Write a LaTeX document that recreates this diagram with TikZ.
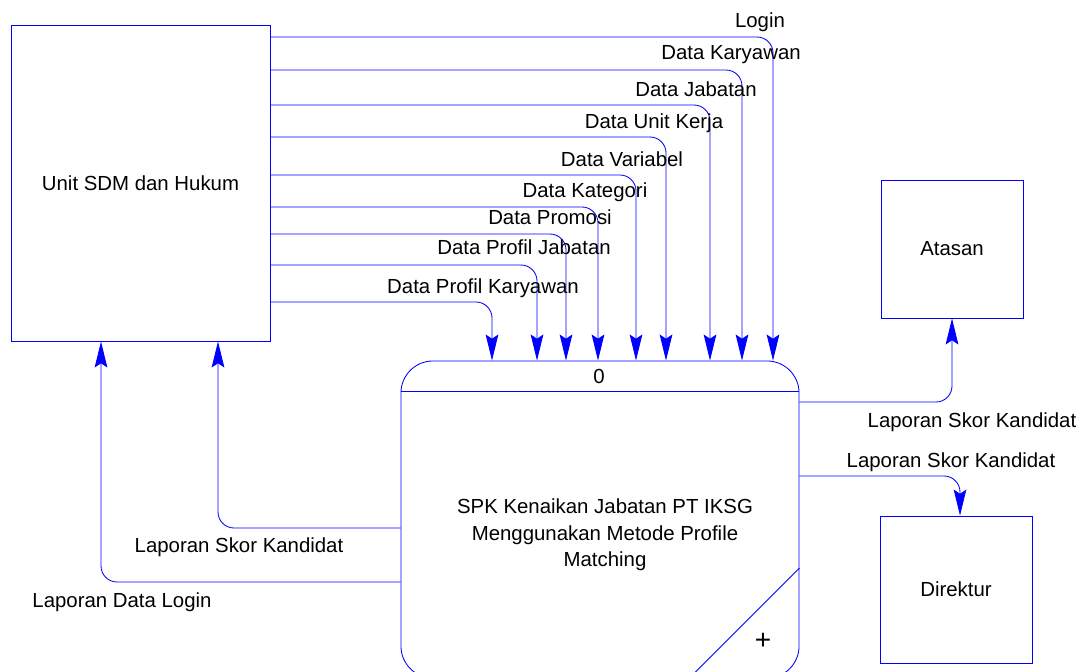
\documentclass[tikz,border=0pt]{standalone}
\usepackage{fontspec}
\setmainfont{Liberation Sans}
\usetikzlibrary{arrows.meta, positioning, calc}
\definecolor{DfdBlue}{RGB}{0,0,255}

\begin{document}
\begin{tikzpicture}[x=0.025cm, y=-0.025cm,
    txt/.style={font=\fontsize{14.5}{18.8}\selectfont, inner sep=0},
    lbl/.style={txt, anchor=base},
    entity/.style={draw=DfdBlue, line width=0.6pt, txt},
    flow/.style={draw=DfdBlue, line width=0.6pt, rounded corners=0.4cm, -{Stealth[length=18.5pt, width=9pt, inset=3pt]}}]
    \clip (0,0) rectangle (1083,671);
    \node[entity, minimum width=6.475cm, minimum height=7.9cm] (sdm) at (140.5,183) {Unit SDM dan Hukum};
    \node[entity, minimum width=3.55cm, minimum height=3.45cm] (atasan) at (952,249) {Atasan};
    \node[entity, minimum width=3.8cm, minimum height=3.675cm] (direktur) at (956,589.5) {Direktur};
    \node[entity, rounded corners=0.8cm, minimum width=9.95cm, minimum height=7.925cm] (proc) at (600,519.5) {};
    \draw[DfdBlue, line width=0.6pt] (proc.west |- 0,391) -- (proc.east |- 0,391);
    \draw[DfdBlue, line width=0.6pt] (proc.east |- 0,568) -- ++(-130,130);
    \node[lbl] (pid) at (599,383) {0};
    \node[txt, align=center] (pname) at (605,535) {SPK Kenaikan Jabatan PT IKSG\\Menggunakan Metode Profile\\Matching};
    \node[txt, font=\fontsize{20}{20}\selectfont] (pplus) at (763,641) {+};
    \foreach \ty/\tx/\lx/\ly/\lbltext in {37/773/760/27/Login, 70/742/731/59/Data Karyawan,
        105/710/696/96/Data Jabatan, 137/666/654/128/Data Unit Kerja, 175/636/622/166/Data Variabel,
        207/598/585/197/Data Kategori, 234/566/550/224/Data Promosi,
        265/537/524/254/Data Profil Jabatan, 302/492/483/293/Data Profil Karyawan}
    {
        \draw[flow] (sdm.east |- 0,\ty) -| (proc.north -| \tx,0);
        \node[lbl] (in\tx) at (\lx,\ly) {\lbltext};
    }
    \draw[flow] (proc.east |- 0,402) -| (atasan.south);
    \node[lbl] (outatasan) at (972,427) {Laporan Skor Kandidat};
    \draw[flow] (proc.east |- 0,476) -| ([xshift=0.1cm]direktur.north);
    \node[lbl] (outdirektur) at (951,467) {Laporan Skor Kandidat};
    \draw[flow] (proc.west |- 0,528) -| (sdm.south -| 218,0);
    \node[lbl] (outskor) at (239,552) {Laporan Skor Kandidat};
    \draw[flow] (proc.west |- 0,582) -| (sdm.south -| 101,0);
    \node[lbl] (outlogin) at (122,607) {Laporan Data Login};
\end{tikzpicture}
\end{document}
